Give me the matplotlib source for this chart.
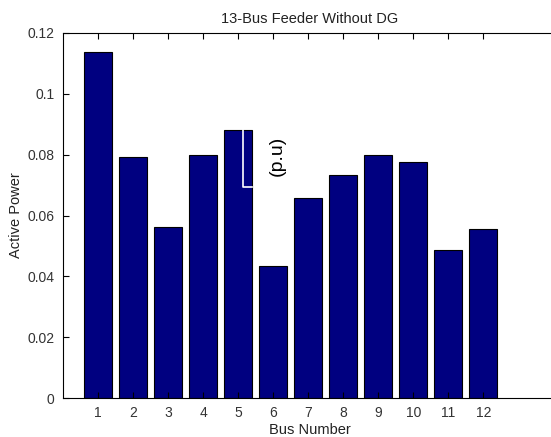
import numpy as np
import matplotlib.pyplot as plt
from matplotlib.lines import Line2D

plt.rcParams['font.family'] = ['Liberation Sans', 'DejaVu Sans']

# data
buses = [1, 2, 3, 4, 5, 6, 7, 8, 9, 10, 11, 12]
power = [0.1138, 0.0792, 0.0562, 0.0799, 0.0881, 0.0434,
         0.0658, 0.0733, 0.0799, 0.0776, 0.0487, 0.0556]
yticks = [0, 0.02, 0.04, 0.06, 0.08, 0.1, 0.12]
ytick_labels = ['0', '0.02', '0.04', '0.06', '0.08', '0.1', '0.12']

fig = plt.figure(figsize=(5.51, 4.37), dpi=100)
# right edge of the axes falls just outside the picture, as in the original
ax = fig.add_axes([63 / 551, 1 - 398 / 437, (557 - 63) / 551, (398 - 33) / 437])

ax.bar(buses, power, width=0.8, color='#000080', edgecolor='black', linewidth=0.8)

ax.set_xlim(0, 14.1)
ax.set_ylim(0, 0.12)
ax.set_xticks(buses)
ax.set_yticks(yticks)
ax.set_yticklabels(ytick_labels)
ax.tick_params(direction='in', length=4, width=0.8, top=True, right=True,
               labelsize=10, labelcolor='#333333', pad=6)
for s in ax.spines.values():
    s.set_linewidth(0.8)

ax.set_title('13-Bus Feeder Without DG', fontsize=10.5, color='#222222', pad=7)
ax.set_xlabel('Bus Number', fontsize=10.5, color='#222222', labelpad=2)
ax.set_ylabel('Active Power', fontsize=10.5, color='#222222', labelpad=3)

# leftover text box on bar 5 (white outline) and the "(p.u)" label
x5 = buses[4]
ax.add_line(Line2D([x5 + 0.14, x5 + 0.14, x5 + 0.4], [power[4], 0.0693, 0.0693],
                   color='white', linewidth=1.2))
ax.text(x5 + 1.11, 0.0797, '(p.u)', rotation=90, fontsize=14,
        ha='center', va='center', color='black')

plt.savefig('out.png', dpi=100)
